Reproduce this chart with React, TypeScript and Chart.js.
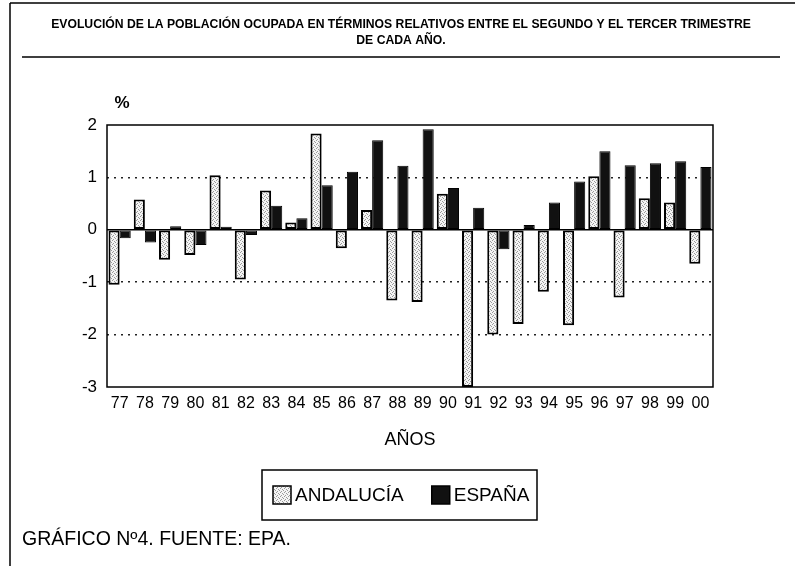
import React, { useEffect, useRef } from "react";
import { Chart, registerables } from "chart.js";

Chart.register(...registerables);

const years = ["77","78","79","80","81","82","83","84","85","86","87","88","89","90","91","92","93","94","95","96","97","98","99","00"];
const andalucia = [-1.05, 0.58, -0.57, -0.48, 1.04, -0.95, 0.75, 0.14, 1.84, -0.35, 0.38, -1.35, -1.38, 0.69, -3.0, -2.0, -1.8, -1.18, -1.82, 1.02, -1.29, 0.6, 0.52, -0.65];
const espana = [-0.16, -0.24, 0.07, -0.29, 0.06, -0.1, 0.46, 0.22, 0.85, 1.11, 1.71, 1.22, 1.92, 0.8, 0.42, -0.37, 0.09, 0.52, 0.92, 1.5, 1.23, 1.27, 1.31, 1.2];
const yTicks = [2, 1, 0, -1, -2, -3];
const seriesNames = ["ANDALUCÍA", "ESPAÑA"];
const titleLines = [
  "EVOLUCIÓN DE LA POBLACIÓN OCUPADA EN TÉRMINOS RELATIVOS ENTRE EL SEGUNDO Y EL TERCER TRIMESTRE",
  "DE CADA AÑO.",
];
const axisTitleX = "AÑOS";
const axisTitleY = "%";
const footer = "GRÁFICO Nº4. FUENTE: EPA.";

const FONT = "'Liberation Sans', Arial, Helvetica, sans-serif";

function makePattern(): CanvasPattern | string {
  const c = document.createElement("canvas");
  c.width = 4;
  c.height = 4;
  const g = c.getContext("2d");
  if (!g) return "#dcdcdc";
  g.fillStyle = "#f4f4f4";
  g.fillRect(0, 0, 4, 4);
  g.fillStyle = "#9a9a9a";
  [[0, 0], [2, 1], [1, 3], [3, 2]].forEach(([x, y]) => g.fillRect(x, y, 1, 1));
  const p = g.createPattern(c, "repeat");
  return p || "#dcdcdc";
}

export default function App() {
  const ref = useRef<HTMLCanvasElement | null>(null);

  useEffect(() => {
    if (!ref.current) return;
    const andFill = makePattern();
    const espFill = "#111111";

    const decor = {
      id: "decor",
      beforeDatasetsDraw(chart: any) {
        const { ctx, chartArea, scales } = chart;
        const y0 = scales.y.getPixelForValue(0);
        ctx.save();
        ctx.strokeStyle = "#000";
        ctx.lineWidth = 1.5;
        ctx.beginPath();
        ctx.moveTo(chartArea.left, y0);
        ctx.lineTo(chartArea.right, y0);
        ctx.stroke();
        ctx.restore();
      },
      afterDraw(chart: any) {
        const { ctx, chartArea } = chart;
        ctx.save();
        // plot frame
        ctx.strokeStyle = "#000";
        ctx.lineWidth = 1.5;
        ctx.strokeRect(chartArea.left, chartArea.top, chartArea.right - chartArea.left, chartArea.bottom - chartArea.top);
        // page frame lines
        ctx.lineWidth = 1.5;
        ctx.beginPath();
        ctx.moveTo(10, 3);
        ctx.lineTo(795, 3);
        ctx.moveTo(10, 3);
        ctx.lineTo(10, 566);
        ctx.moveTo(22, 57);
        ctx.lineTo(780, 57);
        ctx.stroke();
        // title
        ctx.fillStyle = "#000";
        ctx.textAlign = "center";
        ctx.textBaseline = "middle";
        ctx.font = `bold 12.2px ${FONT}`;
        ctx.fillText(titleLines[0], 401, 25);
        ctx.fillText(titleLines[1], 401, 41);
        // % label
        ctx.font = `bold 17px ${FONT}`;
        ctx.fillText(axisTitleY, chartArea.left + 15, 103);
        // footer
        ctx.textAlign = "left";
        ctx.font = `19.5px ${FONT}`;
        ctx.fillText(footer, 22, 540);
        // legend
        const bx = 262, by = 470, bw = 275, bh = 50;
        ctx.lineWidth = 1.5;
        ctx.strokeRect(bx, by, bw, bh);
        const cy = by + bh / 2;
        ctx.font = `19px ${FONT}`;
        const fills = [andFill, espFill];
        let x = bx + 11;
        seriesNames.forEach((name, i) => {
          ctx.fillStyle = fills[i] as any;
          ctx.fillRect(x, cy - 9, 18, 18);
          ctx.strokeStyle = "#000";
          ctx.lineWidth = 1.5;
          ctx.strokeRect(x, cy - 9, 18, 18);
          ctx.fillStyle = "#000";
          ctx.fillText(name, x + 22, cy + 1);
          x += 22 + ctx.measureText(name).width + 28;
        });
        ctx.restore();
      },
    };

    const chart = new Chart(ref.current, {
      type: "bar",
      data: {
        labels: years,
        datasets: [
          {
            label: seriesNames[0],
            data: andalucia,
            backgroundColor: andFill as any,
            borderColor: "#000",
            borderWidth: 2,
            borderSkipped: false,
            categoryPercentage: 0.88,
            barPercentage: 1.0,
          },
          {
            label: seriesNames[1],
            data: espana,
            backgroundColor: espFill,
            borderColor: "#000",
            borderWidth: 1,
            borderSkipped: false,
            categoryPercentage: 0.88,
            barPercentage: 1.0,
          },
        ],
      },
      options: {
        animation: false,
        responsive: true,
        maintainAspectRatio: false,
        layout: { padding: { top: 125, left: 0, right: 82, bottom: 109 } },
        plugins: {
          legend: { display: false },
          title: { display: false },
          tooltip: { enabled: false },
        },
        scales: {
          x: {
            grid: { display: false, drawTicks: false },
            border: { display: false },
            ticks: {
              color: "#000",
              font: { family: FONT, size: 16 },
              padding: 7,
              maxRotation: 0,
              autoSkip: false,
            },
            title: {
              display: true,
              text: axisTitleX,
              color: "#000",
              font: { family: FONT, size: 18 },
              padding: { top: 0, bottom: 6 },
            },
            afterFit: (s: any) => {
              s.height = 70;
            },
          },
          y: {
            min: yTicks[yTicks.length - 1],
            max: yTicks[0],
            afterBuildTicks: (s: any) => {
              s.ticks = yTicks.map((v) => ({ value: v }));
            },
            grid: {
              drawTicks: false,
              lineWidth: 1.5,
              color: (c: any) => {
                const v = c.tick ? c.tick.value : null;
                return v === 0 || v === 2 || v === -3 ? "rgba(0,0,0,0)" : "#222";
              },
            },
            border: { display: false, dash: [2, 5] },
            ticks: {
              color: "#000",
              font: { family: FONT, size: 17 },
              padding: 10,
              callback: (v: any) => String(v),
            },
            afterFit: (s: any) => {
              s.width = 107;
            },
          },
        },
      },
      plugins: [decor],
    });
    return () => chart.destroy();
  }, []);

  return (
    <div style={{ position: "absolute", left: 0, top: 0, width: 795, height: 566, background: "#fff" }}>
      <canvas ref={ref} />
    </div>
  );
}
